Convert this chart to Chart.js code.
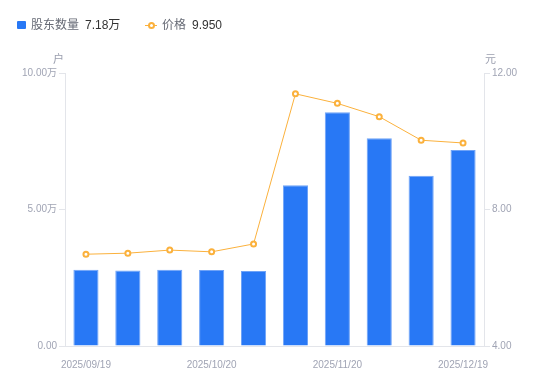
<!DOCTYPE html>
<html>
<head>
<meta charset="utf-8">
<script src="https://cdn.jsdelivr.net/npm/chart.js@4/dist/chart.umd.min.js"></script>
<style>
html,body{margin:0;padding:0;background:#fff;}
#wrap{position:relative;width:550px;height:381px;font-family:Arial,"Liberation Sans","Noto Sans CJK SC",sans-serif;}
canvas{position:absolute;left:0;top:0;}
.lg{position:absolute;top:17px;font-size:12px;line-height:16px;white-space:nowrap;}
.lg .n{color:#666a75;}
.lg .v{color:#333;margin-left:6px;}
.unit{position:absolute;top:50px;font-size:11px;color:#9a9eae;}
</style>
</head>
<body>
<div id="wrap">
<canvas id="c" width="550" height="381"></canvas>
<div class="lg" style="left:17px;"><span style="display:inline-block;width:9px;height:8px;background:#2878f5;border-radius:1px;margin-right:5px;vertical-align:0px;"></span><span class="n">股东数量</span><span class="v">7.18万</span></div>
<div class="lg" style="left:145px;"><span style="display:inline-block;position:relative;width:12px;height:8px;margin-right:5px;vertical-align:0px;"><span style="position:absolute;left:0;top:3.5px;width:12px;height:1px;background:#fbb13c;"></span><span style="position:absolute;left:3px;top:1px;width:3px;height:3px;border:2px solid #fbb13c;border-radius:50%;background:#fff;"></span></span><span class="n">价格</span><span class="v">9.950</span></div>
<div class="unit" style="left:53px;">户</div>
<div class="unit" style="left:485px;">元</div>
</div>
<script>
const categories = ["2025/09/19","2025/09/30","2025/10/10","2025/10/20","2025/10/31","2025/11/10","2025/11/20","2025/11/28","2025/12/10","2025/12/19"];
const holders = [2.79, 2.77, 2.79, 2.78, 2.75, 5.89, 8.56, 7.61, 6.24, 7.18];
const prices = [6.69, 6.72, 6.81, 6.76, 6.99, 11.39, 11.11, 10.72, 10.03, 9.95];
const leftTicks = [0, 5, 10];
const rightTicks = [4, 8, 12];

const labelColor = '#a0a4b4';
const axisColor = '#e3e5ea';
const font = {family: 'Arial, "Liberation Sans", "Noto Sans CJK SC", sans-serif', size: 10};

new Chart(document.getElementById('c'), {
  data: {
    labels: categories,
    datasets: [
      {
        type: 'line', label: '价格', data: prices, yAxisID: 'yR',
        borderColor: '#fbb13c', borderWidth: 1, backgroundColor: '#fff',
        pointRadius: 2.5, pointBorderWidth: 2, pointBorderColor: '#fbb13c', pointBackgroundColor: '#fff',
        tension: 0, order: 0
      },
      {
        type: 'bar', label: '股东数量', data: holders, yAxisID: 'yL',
        backgroundColor: '#2878f5', borderColor: '#6fa3f7', borderWidth: {top: 1, left: 1, right: 1, bottom: 0},
        categoryPercentage: 0.6, barPercentage: 1, order: 1
      }
    ]
  },
  options: {
    responsive: false, animation: false,
    layout: {padding: {top: 73, left: 0, right: 0, bottom: 0}},
    plugins: {legend: {display: false}, tooltip: {enabled: false}},
    scales: {
      x: {
        type: 'category',
        grid: {display: false},
        border: {display: true, color: axisColor},
        ticks: {
          autoSkip: false, maxRotation: 0, color: labelColor, font: font, padding: 5,
          callback: function(v, i) { return i % 3 === 0 ? categories[i] : ''; }
        },
        afterFit: function(s) { s.height = 35; }
      },
      yL: {
        position: 'left', min: leftTicks[0], max: leftTicks[leftTicks.length-1],
        afterBuildTicks: function(s) { s.ticks = leftTicks.map(v => ({value: v})); },
        grid: {drawOnChartArea: false, drawTicks: true, tickLength: 6, color: axisColor},
        border: {display: true, color: axisColor},
        ticks: {color: labelColor, font: font, padding: 2,
          callback: function(v) { return v === 0 ? '0.00' : v.toFixed(2) + '万'; }},
        afterFit: function(s) { s.width = 65; }
      },
      yR: {
        position: 'right', min: rightTicks[0], max: rightTicks[rightTicks.length-1],
        afterBuildTicks: function(s) { s.ticks = rightTicks.map(v => ({value: v})); },
        grid: {drawOnChartArea: false, drawTicks: true, tickLength: 6, color: axisColor},
        border: {display: true, color: axisColor},
        ticks: {color: labelColor, font: font, padding: 2,
          callback: function(v) { return v.toFixed(2); }},
        afterFit: function(s) { s.width = 66; }
      }
    }
  }
});
</script>
</body>
</html>
